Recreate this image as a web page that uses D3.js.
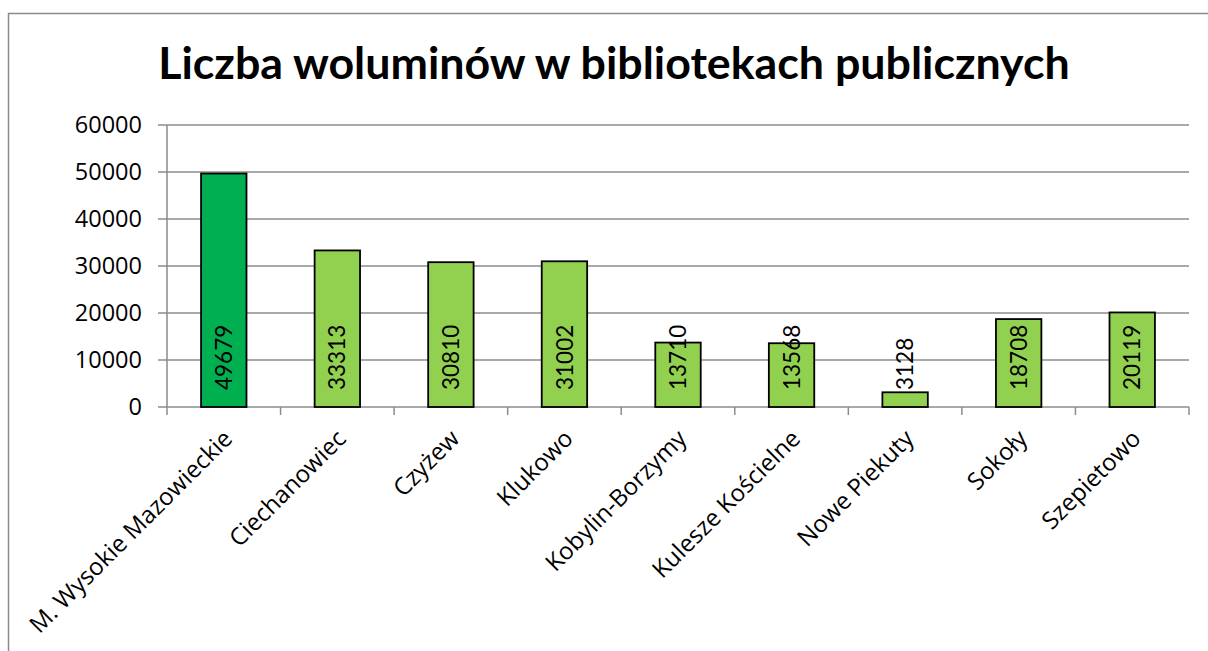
<!DOCTYPE html>
<html>
<head>
<meta charset="utf-8">
<script src="https://cdn.jsdelivr.net/npm/d3@7"></script>
<style>
  body { margin: 0; background: #fff; }
  svg { display: block; }
</style>
</head>
<body>
<div id="chart"></div>
<script>
const categories = ["M. Wysokie Mazowieckie", "Ciechanowiec", "Czyżew", "Klukowo", "Kobylin-Borzymy", "Kulesze Kościelne", "Nowe Piekuty", "Sokoły", "Szepietowo"];
const values = [49679, 33313, 30810, 31002, 13710, 13568, 3128, 18708, 20119];
const yTicks = [0, 10000, 20000, 30000, 40000, 50000, 60000];
const title = "Liczba woluminów w bibliotekach publicznych";

const width = 1208, height = 651;
const plotLeft = 167, plotRight = 1189, plotTop = 125, plotBottom = 407;

const svg = d3.select("#chart")
  .append("svg")
  .attr("width", width)
  .attr("height", height);

// chart area frame (cut off at the right and bottom edge)
svg.append("rect")
  .attr("x", 8.5)
  .attr("y", 13.5)
  .attr("width", 1300)
  .attr("height", 800)
  .attr("fill", "none")
  .attr("stroke", "#8a8a8a")
  .attr("stroke-width", 1.5);

const x = d3.scaleBand()
  .domain(categories)
  .range([plotLeft, plotRight])
  .paddingInner(0.6)
  .paddingOuter(0.3);

const y = d3.scaleLinear()
  .domain([0, 60000])
  .range([plotBottom, plotTop]);

// gridlines
svg.selectAll(".grid")
  .data(yTicks)
  .enter()
  .append("line")
  .attr("x1", plotLeft - 9)
  .attr("x2", plotRight)
  .attr("y1", d => y(d))
  .attr("y2", d => y(d))
  .attr("stroke", "#8c8c8c")
  .attr("stroke-width", 1.5);

// y axis line
svg.append("line")
  .attr("x1", plotLeft).attr("x2", plotLeft)
  .attr("y1", plotTop).attr("y2", plotBottom + 8)
  .attr("stroke", "#8c8c8c")
  .attr("stroke-width", 1.5);

// category ticks
const step = (plotRight - plotLeft) / categories.length;
svg.selectAll(".xtick")
  .data(d3.range(1, categories.length + 1))
  .enter()
  .append("line")
  .attr("x1", d => plotLeft + d * step)
  .attr("x2", d => plotLeft + d * step)
  .attr("y1", plotBottom)
  .attr("y2", plotBottom + 8)
  .attr("stroke", "#8c8c8c")
  .attr("stroke-width", 1.5);

// y tick labels
svg.selectAll(".ylab")
  .data(yTicks)
  .enter()
  .append("text")
  .attr("x", 142)
  .attr("y", d => y(d))
  .attr("dy", "0.36em")
  .attr("text-anchor", "end")
  .attr("font-family", "'Open Sans', sans-serif")
  .attr("font-size", 23.5)
  .attr("fill", "#000")
  .text(d => d);

// bars
svg.selectAll(".bar")
  .data(values)
  .enter()
  .append("rect")
  .attr("x", (d, i) => x(categories[i]))
  .attr("y", d => y(d))
  .attr("width", x.bandwidth())
  .attr("height", d => plotBottom - y(d))
  .attr("fill", (d, i) => i === 0 ? "#00b050" : "#92d050")
  .attr("stroke", "#000")
  .attr("stroke-width", 1.8);

// value labels, rotated, from the base
svg.selectAll(".val")
  .data(values)
  .enter()
  .append("text")
  .attr("transform", (d, i) => "translate(" + (x(categories[i]) + x.bandwidth() / 2) + "," + (plotBottom - 17) + ") rotate(-90)")
  .attr("dy", "0.36em")
  .attr("text-anchor", "start")
  .attr("font-family", "Lato, sans-serif")
  .attr("font-size", 22.5)
  .attr("fill", "#000")
  .text(d => d);

// category labels
svg.selectAll(".xlab")
  .data(categories)
  .enter()
  .append("text")
  .attr("transform", d => "translate(" + (x(d) + x.bandwidth() / 2 + 4) + "," + (plotBottom + 27) + ") rotate(-45)")
  .attr("dy", "0.36em")
  .attr("text-anchor", "end")
  .attr("font-family", "'Open Sans', sans-serif")
  .attr("font-size", 24)
  .attr("fill", "#000")
  .text(d => d);

// title, sized to the reference width
const t = svg.append("text")
  .attr("x", 614)
  .attr("y", 79)
  .attr("text-anchor", "middle")
  .attr("font-family", "Lato, sans-serif")
  .attr("font-weight", "bold")
  .attr("font-size", 44)
  .attr("fill", "#000")
  .text(title);
const tw = t.node().getComputedTextLength();
t.attr("font-size", 44 * 912 / tw);
</script>
</body>
</html>
